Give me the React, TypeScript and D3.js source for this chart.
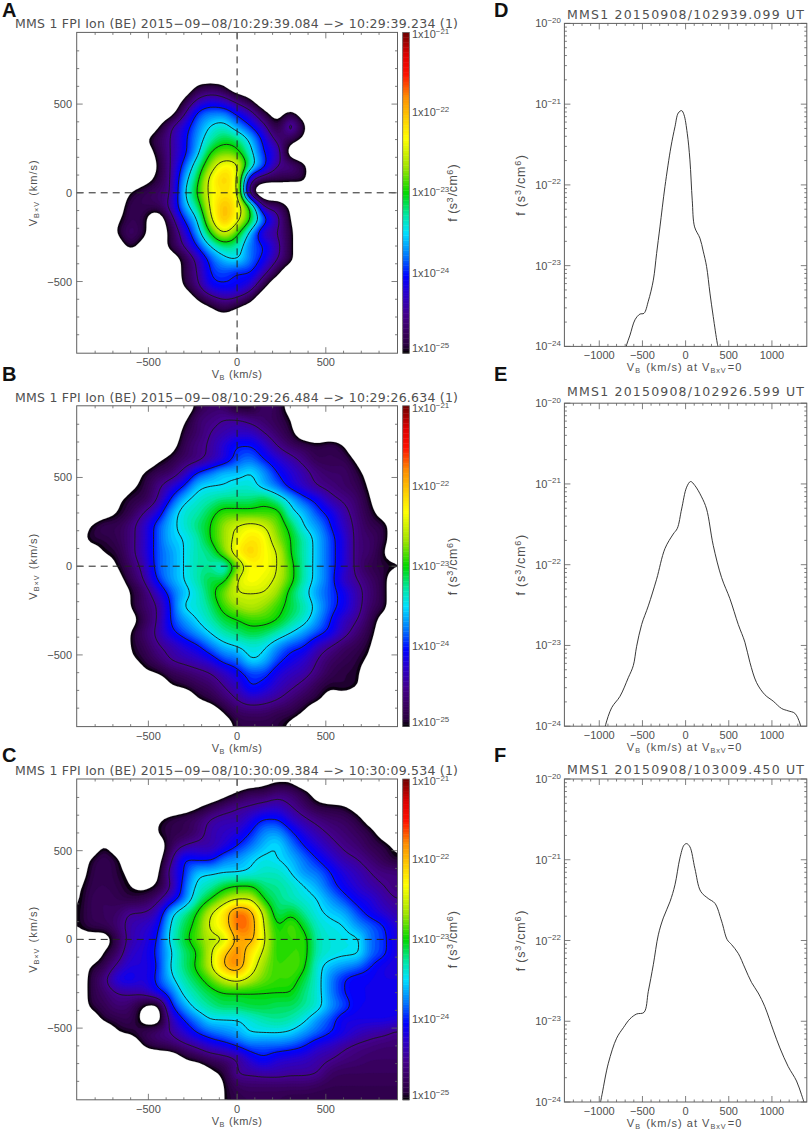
import * as d3 from "d3";

// field values are log10(f / 1e-25) * 10, rows run from VBxV = +904 down to -904
const N_GRID = 25;
const OUT = -4;
const row = (start: number, vals: number[]) => {
  const r = new Array(N_GRID).fill(OUT);
  vals.forEach((v, i) => (r[start + i] = v));
  return r;
};

const fieldA = [
  row(0, []),
  row(0, []),
  row(0, []),
  row(0, []),
  row(9, [0, 1, 0]),
  row(8, [0, 5, 7, 6, 3, 0]),
  row(7, [-2, 4, 10, 12, 12, 9, 6, 1, -2, 0.5, -3]),
  row(6, [-1, 4, 8, 12, 15, 16, 13, 10, 6, 1, 6.5, 0.5]),
  row(5, [-1, 2, 5, 9, 13, 17, 19, 18, 14, 9, 4, 2, -1]),
  row(5, [-3, 1, 5, 9, 14, 20, 22, 21, 16, 10, 7, -2, -4]),
  row(6, [0, 5, 11, 17, 23, 27, 25.5, 17, 11, 5, 4, 1]),
  row(5, [-2, 1, 5, 13, 19, 26, 29, 25, 7, 2, 1.5, 1, 0.5]),
  row(4, [0, 2, 3, 5, 14, 20, 26, 28, 25.5, 3, -4]),
  row(3, [-3, 2, 2, 2, 6, 13, 18, 25.5, 30, 27, 19, 5, 3, -1]),
  row(3, [-1, 2, 1, -3, 3, 10, 15, 24, 30, 26, 20, 11.5, 6, 0]),
  row(3, [0, 3, 1, -3, 1, 7, 13, 20, 25, 21, 14, 7, 5, 1]),
  row(3, [-3, 1, -2, -3, 1, 5, 10, 15, 18, 17, 12, 10, 6, 1]),
  row(7, [-3, 1, 6, 11, 14, 15, 12, 9, 5, 1]),
  row(8, [1, 5, 10, 11, 10, 10, 6, 1]),
  row(8, [0, 4, 8.5, 9.5, 9, 7, 1]),
  row(9, [0, 3, 5, 4, 1]),
  row(10, [-2, 0, -2]),
  row(0, []),
  row(0, []),
  row(12, [0.3, 0.3]),
];

const fieldB = [
  row(9, [1, 3, 3, 0, 0, 3, 2, -2]),
  row(8, [-1, 3, 4, 5, 5, 4, 3, 2, 0]),
  row(8, [1, 3, 5, 6, 7, 7, 5, 3, 1, -3]),
  row(7, [-2, 2, 4, 5.5, 8, 10, 10, 8, 5, 3, 2, 1, 2, 0]),
  row(6, [-1, 1, 3, 4, 6, 8, 11, 12, 10, 8, 6, 4, 2, 2, 2, -1]),
  row(4, [-3, 0, 2, 3, 6, 10, 12, 14, 14, 15, 13, 10, 8, 6, 4, 3, 3, 1, -2]),
  row(4, [-1, 1, 4, 7, 10, 14, 15, 15, 16, 16, 14, 12, 9, 7, 5, 4, 3, 2, -1]),
  row(3, [-1, 1, 2, 5, 10, 14, 16, 17, 18, 18, 18, 19, 17, 14, 11, 9, 6, 4.5, 3, 0]),
  row(2, [-2, 0, 2, 5, 8, 13, 16, 17, 19, 21, 21, 21, 21, 21, 16, 14, 11, 9, 6, 3.5, 1, -2]),
  row(1, [0, 2, 2, 4, 7, 11, 14, 16, 18, 20, 23, 25, 26, 25, 22, 19, 15, 13, 10, 7, 4, 2, 1, -3]),
  row(0, [-3, 1, 1, 2, 4, 7, 11, 14, 15, 17, 20, 23, 26, 28, 27, 23, 20, 17, 14, 11, 8, 4, 3, 1, -3]),
  row(1, [-3, 0, 1, 4, 7, 11, 13, 15, 17, 18, 22, 27, 29, 27, 25, 20, 17, 14, 11, 8, 4, 3, 0, -3]),
  row(2, [-3, 0, 3, 6, 11, 13, 15, 17, 17.5, 16, 22, 27, 27, 25, 21, 17, 14, 11, 8, 4, 2, 1, 0.5]),
  row(3, [-2, 2, 5, 10, 13, 15, 17, 19, 19, 25, 27, 26, 24.5, 21, 17, 14, 11, 7, 5, 3, 1]),
  row(4, [0, 3, 7, 11, 14, 16, 19, 22, 25, 25, 25, 23, 19, 16, 13, 11, 9, 6, 3.5, 1]),
  row(4, [0, 3, 5, 10, 15, 16, 18, 21, 23, 24, 23, 21, 19, 17, 14, 11, 9, 6, 3, 1]),
  row(4, [-2, 2, 5, 10, 13, 15, 17, 19, 20, 21, 21, 20, 18, 16, 13, 10, 7, 5, 2, -2]),
  row(4, [0, 3, 5.5, 9, 11, 13, 15, 17, 18, 19, 18.5, 17, 15, 13, 11, 9, 6, 3.5, 1, -3]),
  row(4, [0, 2, 4.5, 6, 8, 9.5, 12, 14, 15, 16, 15.5, 13, 11, 10, 7, 5, 3, 2, 0]),
  row(4, [-1, 1, 3, 5, 6, 7, 8.5, 11, 12, 15, 14, 11, 9, 7.5, 5, 3, 2, 1, -1]),
  row(5, [-1, 0, 2, 3, 4, 5, 7, 9, 11, 11, 8.5, 7, 6, 4, 2, 1, 0.5, -3]),
  row(7, [-0.5, 0.5, 2, 3, 5, 7, 10, 9, 7, 5.5, 4, 2, 0.5, 1, 0]),
  row(9, [-0.5, 1, 3, 5, 6.5, 6, 5, 3.5, 2, 0.5, -2, -2]),
  row(10, [-3, 0, 2.5, 3, 3, 2, 1.5, -0.5]),
  row(11, [-3, 1, 1.5, 1.5, 1, -1]),
];

const fieldC = [
  row(14, [-2, -1, -1]),
  row(11, [-2, 0, 2, 2, 3.5, 3, 1, -2]),
  row(8, [-3, -1, 1, 3, 4.5, 5, 6, 6.5, 5, 3, 1, 0.5, 0, -2]),
  row(6, [-1, 1, 2, 3, 5, 6, 6, 8, 10, 10, 7.5, 5.5, 4, 3, 2.5, 1, -2]),
  row(6, [0, 1.5, 2, 3.5, 6, 7, 8, 10, 12.5, 13, 10.5, 8, 6, 4.5, 3.5, 2.5, 1, -2]),
  row(2, [0, -3, OUT, OUT, -3, 2, 5, 6, 6, 8, 10, 12, 14, 15, 12.5, 10, 8, 6, 4.5, 3.5, 2, 1, -1]),
  row(1, [0, 2, 0.5, -3, OUT, -2, 4, 10, 9.5, 9.5, 12, 13, 14.5, 15.5, 15, 14, 12, 10, 8, 6, 5, 3.5, 2, 0.5]),
  row(0, [-3, 1, 2, 1, -1, -3, -1, 6, 10, 14, 14.5, 15, 15, 15.5, 16.5, 16.5, 15, 13, 12, 10, 8, 6.5, 5, 4, 4]),
  row(0, [-1, 1.5, 2, 1.5, 0, -1, 0.5, 5, 11, 15.5, 17, 19, 20, 20, 18, 17.5, 16.5, 15, 13.5, 11, 9, 7.5, 6, 5, 4]),
  row(0, [-0.5, 2, 2.5, 2, 1.5, 2, 4, 8, 12, 17, 20, 23, 25, 25, 20, 18, 17, 16, 15, 13, 11, 9, 8, 6, 5]),
  row(0, [0, 2, 2.5, 3, 5, 5, 7, 13.5, 17, 20, 24.5, 28, 33, 31, 24, 18.5, 19.5, 17.5, 15.5, 14.5, 13.5, 11, 9, 7.5, 6]),
  row(0, [0, 1.5, 2, 3.5, 6, 7, 9, 15, 18.5, 21, 25.5, 28, 33, 32, 25, 20, 21.5, 19.5, 16.5, 15.5, 15, 13, 11.5, 10, 7.5]),
  row(0, [-2, -2, -2, 2, 6, 7.5, 10, 15.5, 19, 21.5, 24, 25, 31, 31, 25.5, 20.5, 21, 21, 17, 16, 15.5, 15.5, 12, 10.5, 8]),
  row(2, [0, 3, 7, 8, 10.5, 14.5, 18, 20, 24.5, 29, 32, 28, 24.5, 20.5, 21, 21, 17, 16, 15.5, 15.5, 12, 10.5, 8]),
  row(1, [0, 2, 5.5, 8, 8, 10, 15, 18, 20.5, 24.5, 30, 32, 27, 23, 21, 21.5, 20.5, 16, 14, 13, 12, 10, 8.5, 8]),
  row(1, [1, 4, 8, 9, 8, 10.5, 14, 17, 19, 21.5, 24.5, 26, 24, 22, 21, 21, 19, 16, 12.5, 10, 9, 9, 8.5, 8.5]),
  row(1, [1, 3, 5, 5.5, 6, 8.5, 11.5, 15.5, 17.5, 19, 20, 20, 20, 20, 20, 20, 18, 16, 12.5, 10, 9, 9, 9, 9]),
  row(1, [0.5, 2, 3.5, 3, 0, -1, 9, 13, 16, 17.5, 18.5, 18.5, 19, 19, 18.5, 18.5, 17.5, 16, 13, 11, 9, 9, 9, 9]),
  row(1, [-3, 0.5, 1.5, 2, -1, -2, 6, 10, 12.5, 15, 15, 15, 16, 17, 17.5, 17, 15.5, 13, 11, 8.5, 8.5, 8.5, 8.5, 8]),
  row(3, [-0.5, 0.5, 2, 3.5, 5, 7.5, 10, 11.5, 12.5, 13.5, 15, 15, 15, 14.5, 13, 11.5, 10, 8.5, 7, 6, 5.5, 4.5]),
  row(5, [0, 1.5, 2.5, 4, 5.5, 7.5, 8.5, 10, 11.5, 11.5, 11.5, 11, 10, 8, 7, 5.5, 4.5, 4, 3.5, 3.5]),
  row(8, [-0.5, 1, 2.5, 3.5, 5, 8, 9.5, 8, 7.5, 7, 6, 5, 4, 3.5, 3, 3, 3]),
  row(10, [-1, 1, 5, 5.5, 6, 6, 5.5, 5.5, 5, 3, 2.5, 2.5, 2.5, 2.5, 2.5]),
  row(11, [0, 2.5, 3, 3, 3, 3, 3, 2.5, 2, 2, 2, 2, 2, 2]),
  row(11, [0, 1.5, 2, 2, 2, 1.5, 1.5, 1.5, 1.5, 1.5, 1.5, 1.5, 1.5, 1.5]),
];

// cuts at VBxV = 0: velocity (km/s) and log10 f
const cutDV = [-700, -683, -644, -586, -529, -482, -432, -374, -336, -297, -239, -170, -123, -85, -46, -19, 19, 50, 77, 104, 166, 204, 243, 282, 320, 367, 385];
const cutDF = [-24.05, -23.98, -23.86, -23.67, -23.6, -23.59, -23.44, -23.18, -22.85, -22.52, -22.02, -21.53, -21.28, -21.11, -21.08, -21.13, -21.36, -21.69, -22.19, -22.52, -22.66, -22.82, -23.01, -23.34, -23.63, -23.96, -24.05];
const cutEV = [-940, -926, -856, -760, -664, -606, -567, -509, -432, -336, -239, -143, -96, -46, 12, 58, 108, 185, 243, 320, 417, 513, 610, 687, 745, 822, 918, 1015, 1111, 1188, 1265, 1323, 1340];
const cutEF = [-24.05, -23.98, -23.77, -23.63, -23.4, -23.25, -23.01, -22.74, -22.51, -22.18, -21.8, -21.62, -21.55, -21.31, -21.04, -20.97, -21.02, -21.16, -21.31, -21.76, -22.16, -22.42, -22.74, -22.96, -23.21, -23.46, -23.61, -23.69, -23.78, -23.81, -23.84, -23.96, -24.05];
const cutFV = [-985, -965, -895, -799, -721, -644, -567, -482, -432, -374, -316, -258, -181, -123, -66, -19, 12, 50, 108, 174, 262, 340, 417, 482, 532, 610, 687, 764, 841, 918, 1015, 1092, 1188, 1285, 1343, 1380];
const cutFF = [-24, -23.89, -23.52, -23.21, -23.08, -22.97, -22.91, -22.89, -22.63, -22.3, -21.93, -21.72, -21.52, -21.31, -20.98, -20.82, -20.8, -20.84, -21.11, -21.39, -21.48, -21.54, -21.76, -21.99, -22.05, -22.16, -22.34, -22.52, -22.65, -22.82, -23.11, -23.33, -23.56, -23.74, -23.91, -24.03];

const titlesLeft = [
  "MMS 1 FPI Ion (BE) 2015−09−08/10:29:39.084 −> 10:29:39.234 (1)",
  "MMS 1 FPI Ion (BE) 2015−09−08/10:29:26.484 −> 10:29:26.634 (1)",
  "MMS 1 FPI Ion (BE) 2015−09−08/10:30:09.384 −> 10:30:09.534 (1)",
];
const titlesRight = [
  "MMS1 20150908/102939.099 UT",
  "MMS1 20150908/102926.599 UT",
  "MMS1 20150908/103009.450 UT",
];
const lettersLeft = ["A", "B", "C"];
const lettersRight = ["D", "E", "F"];
const velTicks = [-500, 0, 500];
const cutTicks = [-1000, -500, 0, 500, 1000];
const barExps = [-21, -22, -23, -24, -25];
const decades = [-20, -21, -22, -23, -24];
const lineLevels = [5, 10, 15, 20, 25, 30];

const TEXT = "#505050";
const AXIS = "#606060";
const FONT = "'Liberation Sans', Arial, sans-serif";

const colorStops = [0, 0.025, 0.06, 0.12, 0.19, 0.24, 0.3, 0.375, 0.43, 0.5, 0.58, 0.67, 0.72, 0.8, 0.87, 0.93, 1];
const colorValues = ["#000000", "#2a0040", "#360058", "#44008c", "#2800d0", "#0000ff", "#0070ff", "#00e0ff", "#00e8a8", "#00d800", "#a0e400", "#ffff00", "#ffd800", "#ff8c00", "#ff1000", "#e00000", "#700000"];
const color = d3.scaleLinear<string>().domain(colorStops).range(colorValues).clamp(true);

const cubic = (a: number, b: number, c: number, d: number, t: number) => {
  const v = 0.5 * (2 * b + (c - a) * t + (2 * a - 5 * b + 4 * c - d) * t * t + (3 * b - a - 3 * c + d) * t * t * t);
  return Math.max(Math.min(b, c), Math.min(Math.max(b, c), v));
};

// smooth the coarse grid so d3.contours gets round bands
function refine(grid: number[][], k: number) {
  const n = grid.length;
  const size = (n - 1) * k + 1;
  const at = (a: number[], i: number) => a[Math.max(0, Math.min(n - 1, i))];
  const sample = (a: number[], p: number) => {
    const i = Math.min(n - 2, Math.floor(p));
    return cubic(at(a, i - 1), at(a, i), at(a, i + 1), at(a, i + 2), p - i);
  };
  const rows = grid.map((r) => d3.range(size).map((i) => sample(r, i / k)));
  const data = new Float64Array(size * size);
  for (let i = 0; i < size; i++) {
    const col = rows.map((r) => r[i]);
    for (let j = 0; j < size; j++) data[j * size + i] = sample(col, j / k);
  }
  d3.blur2({ data, width: size, height: size }, 0.8);
  return { data, size };
}

function Sup({ children, dy = -5 }: { children: string; dy?: number }) {
  return (
    <>
      <tspan dy={dy} fontSize="0.72em">{children}</tspan>
      <tspan dy={-dy} fontSize="1px">{"\u200a"}</tspan>
    </>
  );
}

function Sub({ children }: { children: string }) {
  return (
    <>
      <tspan dy={2} fontSize="0.66em">{children}</tspan>
      <tspan dy={-2} fontSize="1px">{"\u200a"}</tspan>
    </>
  );
}

function ContourPanel({ field, title, letter, top, letterY, titleY, id }: any) {
  const left = 76.7;
  const side = 320.8;
  const x = d3.scaleLinear().domain([-904, 904]).range([left, left + side]);
  const y = d3.scaleLinear().domain([-904, 904]).range([top + side, top]);
  const { data, size } = refine(field, 5);
  const toX = (g: number) => ((g - 0.5) / (size - 1)) * 1808 - 904;
  const toY = (g: number) => 904 - ((g - 0.5) / (size - 1)) * 1808;
  const path = d3.geoPath(
    d3.geoTransform({
      point(px: number, py: number) {
        (this as any).stream.point(x(toX(px)), y(toY(py)));
      },
    })
  );
  const gen = d3.contours().size([size, size]);
  const bands = gen.thresholds(d3.range(0, 40, 0.5))(data as any);
  const lines = gen.thresholds(lineLevels)(data as any);
  const minor = d3.range(-800, 801, 100).filter((v) => !velTicks.includes(v));
  const bar = d3.scaleLinear().domain([-25, -21]).range([top + side, top]);
  const barCells = d3.range(0, 128);
  return (
    <g>
      <text x={2} y={letterY} fontFamily={FONT} fontWeight="bold" fontSize={20} fill="#111">{letter}</text>
      <text x={15} y={titleY} fontFamily="'DejaVu Sans', sans-serif" fontSize={12.5} fill={TEXT} textLength={443} lengthAdjust="spacing">{title}</text>
      <clipPath id={id}><rect x={left} y={top} width={side} height={side} /></clipPath>
      <g clipPath={`url(#${id})`}>
        {bands.map((b) => b.coordinates.length > 0 && (
          <path key={b.value} d={path(b as any) ?? ""} fill={color(b.value / 40 + 0.006)} stroke={color(b.value / 40 + 0.006)} strokeWidth={0.2} />
        ))}
        {lines.map((b) => (
          <path key={b.value} d={path(b as any) ?? ""} fill="none" stroke="#1a1a1a" strokeWidth={0.9} />
        ))}
      </g>
      <line x1={x(0)} x2={x(0)} y1={top} y2={top + side} stroke="#222" strokeWidth={1} strokeDasharray="7 5" />
      <line x1={left} x2={left + side} y1={y(0)} y2={y(0)} stroke="#222" strokeWidth={1} strokeDasharray="7 5" />
      <rect x={left} y={top} width={side} height={side} fill="none" stroke={AXIS} strokeWidth={1} />
      {[...minor.map((v) => [v, 2.5]), ...velTicks.map((v) => [v, 6])].map(([v, len]) => (
        <g key={v} stroke={AXIS} strokeWidth={0.8}>
          <line x1={x(v)} x2={x(v)} y1={top + side} y2={top + side - len} />
          <line x1={x(v)} x2={x(v)} y1={top} y2={top + len} />
          <line x1={left} x2={left + len} y1={y(v)} y2={y(v)} />
          <line x1={left + side} x2={left + side - len} y1={y(v)} y2={y(v)} />
        </g>
      ))}
      <g fontFamily={FONT} fontSize={11} fill={TEXT}>
        {velTicks.map((v) => (
          <text key={v} x={x(v)} y={top + side + 13} textAnchor="middle">{v < 0 ? `−${-v}` : v}</text>
        ))}
        {velTicks.map((v) => (
          <text key={v} x={72} y={y(v) + 4} textAnchor="end">{v < 0 ? `−${-v}` : v}</text>
        ))}
        <text x={x(0)} y={top + side + 25} textAnchor="middle" letterSpacing={0.5}>
          V<Sub>B</Sub> (km/s)
        </text>
        <text transform={`translate(37,${y(0)}) rotate(-90)`} textAnchor="middle" letterSpacing={1}>
          V<Sub>B×V</Sub> (km/s)
        </text>
      </g>
      {barCells.map((i) => (
        <rect key={i} x={402.7} width={6.6} y={bar(-25 + ((i + 1) / 128) * 4)} height={side / 128 + 0.4} fill={color((i + 0.5) / 128)} />
      ))}
      <rect x={402.7} y={top} width={6.6} height={side} fill="none" stroke={AXIS} strokeWidth={0.8} />
      <g fontFamily={FONT} fontSize={11} fill={TEXT}>
        {barExps.map((e) => (
          <text key={e} x={412} y={e === -21 ? bar(e) + 6 : e === -25 ? bar(e) - 1 : bar(e) + 3.5}>
            1x10<Sup dy={-4}>{`−${-e}`}</Sup>
          </text>
        ))}
        <text transform={`translate(457,${y(0)}) rotate(-90)`} textAnchor="middle" fontSize={12.5} letterSpacing={0.5}>
          f (s<Sup dy={-4}>3</Sup>/cm<Sup dy={-4}>6</Sup>)
        </text>
      </g>
    </g>
  );
}

function CutPanel({ vel, logf, title, letter, top, letterY, titleY, id }: any) {
  const left = 564.4;
  const right = 806.8;
  const height = 323;
  const x = d3.scaleLinear().domain([-1404, 1404]).range([left, right]);
  const y = d3.scaleLog().domain([1e-24, 1e-20]).range([top + height, top]);
  const pts: [number, number][] = vel.map((v: number, i: number) => [v, Math.pow(10, logf[i])]);
  const line = d3.line<[number, number]>().x((d) => x(d[0])).y((d) => y(d[1])).curve(d3.curveCatmullRom.alpha(0.5));
  const minorX = d3.range(-1300, 1301, 100).filter((v) => v % 500 !== 0);
  const minorY = y.ticks().filter((t) => !decades.some((e) => Math.abs(Math.log10(t) - e) < 1e-6));
  return (
    <g>
      <text x={494} y={letterY} fontFamily={FONT} fontWeight="bold" fontSize={20} fill="#111">{letter}</text>
      <text x={567} y={titleY} fontFamily="'DejaVu Sans', sans-serif" fontSize={12.5} fill={TEXT} textLength={237} lengthAdjust="spacing">{title}</text>
      <clipPath id={id}><rect x={left} y={top} width={right - left} height={height} /></clipPath>
      <path d={line(pts) ?? ""} fill="none" stroke="#222" strokeWidth={0.9} clipPath={`url(#${id})`} />
      <rect x={left} y={top} width={right - left} height={height} fill="none" stroke={AXIS} strokeWidth={1} />
      {[...minorX.map((v) => [v, 2.5]), ...cutTicks.map((v) => [v, 6])].map(([v, len]) => (
        <g key={v} stroke={AXIS} strokeWidth={0.8}>
          <line x1={x(v)} x2={x(v)} y1={top + height} y2={top + height - len} />
          <line x1={x(v)} x2={x(v)} y1={top} y2={top + len} />
        </g>
      ))}
      {minorY.map((t) => (
        <g key={t} stroke={AXIS} strokeWidth={0.8}>
          <line x1={left} x2={left + 2.5} y1={y(t)} y2={y(t)} />
          <line x1={right} x2={right - 2.5} y1={y(t)} y2={y(t)} />
        </g>
      ))}
      {decades.map((e) => (
        <g key={e} stroke={AXIS} strokeWidth={0.8}>
          <line x1={left} x2={left + 6} y1={y(Math.pow(10, e))} y2={y(Math.pow(10, e))} />
          <line x1={right} x2={right - 6} y1={y(Math.pow(10, e))} y2={y(Math.pow(10, e))} />
        </g>
      ))}
      <g fontFamily={FONT} fontSize={11} fill={TEXT}>
        {cutTicks.map((v) => (
          <text key={v} x={x(v)} y={top + height + 13} textAnchor="middle">{v < 0 ? `−${-v}` : v}</text>
        ))}
        {decades.map((e) => (
          <text key={e} x={561} y={y(Math.pow(10, e)) + 4} textAnchor="end" fontSize={11}>
            10<Sup dy={-4.5}>{`−${-e}`}</Sup>
          </text>
        ))}
        <text x={(left + right) / 2 - 1} y={top + height + 25} textAnchor="middle" letterSpacing={1}>
          V<Sub>B</Sub> (km/s) at V<Sub>BxV</Sub>=0
        </text>
        <text transform={`translate(525,${top + height / 2}) rotate(-90)`} textAnchor="middle" fontSize={12.5} letterSpacing={0.8}>
          f (s<Sup dy={-4}>3</Sup>/cm<Sup dy={-4}>6</Sup>)
        </text>
      </g>
    </g>
  );
}

export default function App() {
  return (
    <svg width={809} height={1134} viewBox="0 0 809 1134" style={{ position: "absolute", left: 0, top: 0, background: "#fff" }}>
      <ContourPanel id="ca" field={fieldA} title={titlesLeft[0]} letter={lettersLeft[0]} top={32.4} letterY={17} titleY={28} />
      <ContourPanel id="cb" field={fieldB} title={titlesLeft[1]} letter={lettersLeft[1]} top={405.8} letterY={381} titleY={401.5} />
      <ContourPanel id="cc" field={fieldC} title={titlesLeft[2]} letter={lettersLeft[2]} top={779} letterY={762} titleY={774.5} />
      <CutPanel id="cd" vel={cutDV} logf={cutDF} title={titlesRight[0]} letter={lettersRight[0]} top={23.4} letterY={17} titleY={18.5} />
      <CutPanel id="ce" vel={cutEV} logf={cutEF} title={titlesRight[1]} letter={lettersRight[1]} top={403.2} letterY={381} titleY={396} />
      <CutPanel id="cf" vel={cutFV} logf={cutFF} title={titlesRight[2]} letter={lettersRight[2]} top={779} letterY={762} titleY={773.5} />
    </svg>
  );
}
